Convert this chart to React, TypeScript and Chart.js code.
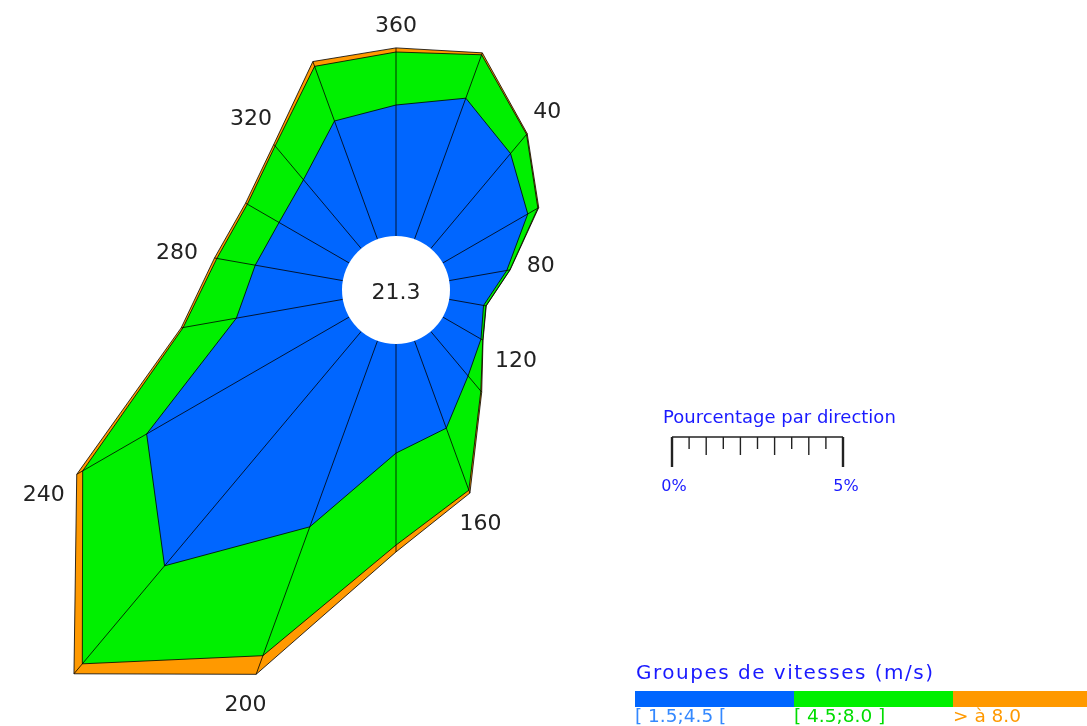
import React, { useEffect, useRef } from 'react';
import { Chart, registerables } from 'chart.js';

Chart.register(...registerables);

// ---- Data ----
const DIRECTIONS = [360, 20, 40, 60, 80, 100, 120, 140, 160, 180, 200, 220, 240, 260, 280, 300, 320, 340];
const LABELED_DIRECTIONS = [360, 40, 80, 120, 160, 200, 240, 280, 320];
const CALM_LABEL = '21.3';
const SPEED_GROUPS = ['[ 1.5;4.5 [', '[ 4.5;8.0 ]', '> à 8.0'];
// percentage per direction for each speed group
const PCT_LOW = [3.83, 4.39, 3.63, 2.87, 1.71, 1.02, 1.29, 1.7, 2.72, 3.19, 5.79, 8.95, 6.84, 3.16, 2.6, 2.37, 2.63, 3.68];
const PCT_MID = [1.55, 1.35, 0.73, 0.34, 0.09, 0.07, 0.06, 0.58, 1.93, 2.69, 4.01, 3.74, 2.16, 1.58, 1.14, 1.07, 1.29, 1.7];
const PCT_HIGH = [0.12, 0.06, 0.03, 0.03, 0.01, 0.01, 0.01, 0.04, 0.09, 0.2, 0.58, 0.38, 0.2, 0.06, 0.07, 0.06, 0.06, 0.15];
const SCALE_TITLE = 'Pourcentage par direction';
const SCALE_TICK_LABELS = ['0%', '5%'];
const SCALE_MAX = 5;
const SCALE_STEP = 0.5;
const LEGEND_TITLE = 'Groupes de vitesses (m/s)';

// ---- Styles / layout ----
const GROUP_COLORS = ['#0066ff', '#00f000', '#ff9900'];
const LABEL_COLORS = ['#3388ff', '#00dd00', '#ff9900'];
const PX_PER_PCT = 34.2;
const HOLE_PX = 54;
const CANVAS_LEFT = -24;
const CANVAS_TOP = -130;
const CANVAS_W = 1111;
const CANVAS_H = 856;
const HALF = 420;
const FONT = '"DejaVu Sans", Verdana, sans-serif';

const cum1 = PCT_LOW.slice();
const cum2 = PCT_LOW.map((v, i) => v + PCT_MID[i]);
const cum3 = cum2.map((v, i) => v + PCT_HIGH[i]);

const SCALE_MIN = -HOLE_PX / PX_PER_PCT;
const SCALE_MAXV = HALF / PX_PER_PCT + SCALE_MIN;

const px = (x: number) => x - CANVAS_LEFT;
const py = (y: number) => y - CANVAS_TOP;

const roseDecor = {
  id: 'roseDecor',
  afterDatasetsDraw(chart: any) {
    const ctx: CanvasRenderingContext2D = chart.ctx;
    const r = chart.scales.r;
    const n = DIRECTIONS.length;
    ctx.save();
    // spokes
    ctx.strokeStyle = '#000';
    ctx.lineWidth = 0.8;
    for (let i = 0; i < n; i++) {
      const a = r.getPointPositionForValue(i, 0);
      const b = r.getPointPositionForValue(i, cum3[i]);
      ctx.beginPath();
      ctx.moveTo(a.x, a.y);
      ctx.lineTo(b.x, b.y);
      ctx.stroke();
    }
    // central hole
    const hole = r.getDistanceFromCenterForValue(0);
    ctx.fillStyle = '#ffffff';
    ctx.beginPath();
    ctx.arc(r.xCenter, r.yCenter, hole, 0, Math.PI * 2);
    ctx.fill();
    ctx.fillStyle = '#222';
    ctx.font = '22px ' + FONT;
    ctx.textAlign = 'center';
    ctx.textBaseline = 'alphabetic';
    ctx.fillText(CALM_LABEL, r.xCenter, r.yCenter + 9);

    // direction labels
    const capH = 16;
    for (let i = 0; i < n; i++) {
      const d = DIRECTIONS[i];
      if (!LABELED_DIRECTIONS.includes(d)) continue;
      const label = String(d);
      const ang = r.getIndexAngle(i); // radians from north clockwise
      const s = Math.sin(ang), c = Math.cos(ang);
      const w = ctx.measureText(label).width;
      const dist = r.getDistanceFromCenterForValue(cum3[i]) + 16 + Math.abs(s) * w / 2 + Math.abs(c) * capH / 2;
      const cx = r.xCenter + s * dist;
      const cy = r.yCenter - c * dist;
      ctx.fillText(label, cx, cy + capH / 2);
    }

    // scale bar
    const unit = (r.getDistanceFromCenterForValue(SCALE_MAX) - r.getDistanceFromCenterForValue(0)) / SCALE_MAX;
    const x0 = px(672);
    const yLine = py(437);
    ctx.fillStyle = '#1a1aff';
    ctx.textAlign = 'left';
    ctx.font = '18px ' + FONT;
    ctx.fillText(SCALE_TITLE, px(663), py(423));
    ctx.strokeStyle = '#222';
    ctx.lineWidth = 1.4;
    ctx.beginPath();
    ctx.moveTo(x0, yLine);
    ctx.lineTo(x0 + SCALE_MAX * unit, yLine);
    ctx.stroke();
    const steps = Math.round(SCALE_MAX / SCALE_STEP);
    for (let k = 0; k <= steps; k++) {
      const x = x0 + k * SCALE_STEP * unit;
      const end = k === 0 || k === steps;
      const len = end ? 30 : (k % 2 === 0 ? 18 : 12);
      ctx.lineWidth = end ? 2.4 : 1.4;
      ctx.beginPath();
      ctx.moveTo(x, yLine);
      ctx.lineTo(x, yLine + len);
      ctx.stroke();
    }
    ctx.fillStyle = '#1a1aff';
    ctx.font = '16px ' + FONT;
    ctx.textAlign = 'center';
    ctx.fillText(SCALE_TICK_LABELS[0], x0 + 2, py(491));
    ctx.fillText(SCALE_TICK_LABELS[1], x0 + SCALE_MAX * unit + 3, py(491));

    // legend
    ctx.textAlign = 'left';
    ctx.font = '20px ' + FONT;
    try { (ctx as any).letterSpacing = '1.5px'; } catch (e) {}
    ctx.fillStyle = '#1a1aff';
    ctx.fillText(LEGEND_TITLE, px(636), py(679));
    try { (ctx as any).letterSpacing = '0px'; } catch (e) {}
    const segW = 159;
    for (let g = 0; g < SPEED_GROUPS.length; g++) {
      const lx = px(635) + g * segW;
      ctx.fillStyle = GROUP_COLORS[g];
      ctx.fillRect(lx, py(691), segW, 16);
      ctx.fillStyle = LABEL_COLORS[g];
      ctx.font = '18.5px ' + FONT;
      ctx.fillText(SPEED_GROUPS[g], lx, py(722));
    }
    ctx.restore();
  },
};

export default function App() {
  const ref = useRef<HTMLCanvasElement | null>(null);
  useEffect(() => {
    if (!ref.current) return;
    const series = [cum1, cum2, cum3];
    const chart = new Chart(ref.current, {
      type: 'radar',
      data: {
        labels: DIRECTIONS.map(String),
        datasets: series.map((data, g) => ({
          label: SPEED_GROUPS[g],
          data,
          backgroundColor: GROUP_COLORS[g],
          borderColor: '#000',
          borderWidth: 0.8,
          pointRadius: 0,
          pointHoverRadius: 0,
          fill: 'start',
          clip: false,
          tension: 0,
        })),
      },
      options: {
        responsive: false,
        animation: false,
        events: [],
        layout: {
          padding: { left: 0, top: 0, right: CANVAS_W - 2 * HALF, bottom: CANVAS_H - 2 * HALF },
        },
        plugins: {
          legend: { display: false },
          tooltip: { enabled: false },
          title: { display: false },
        },
        scales: {
          r: {
            min: SCALE_MIN,
            max: SCALE_MAXV,
            beginAtZero: false,
            grid: { display: false },
            angleLines: { display: false },
            pointLabels: { display: false },
            ticks: { display: false },
          },
        },
      },
      plugins: [roseDecor],
    } as any);
    return () => chart.destroy();
  }, []);
  return (
    <div style={{ position: 'fixed', left: 0, top: 0, width: 1087, height: 726, overflow: 'hidden', background: '#fff' }}>
      <canvas
        ref={ref}
        width={CANVAS_W}
        height={CANVAS_H}
        style={{ position: 'absolute', left: CANVAS_LEFT, top: CANVAS_TOP, width: CANVAS_W, height: CANVAS_H }}
      />
    </div>
  );
}
